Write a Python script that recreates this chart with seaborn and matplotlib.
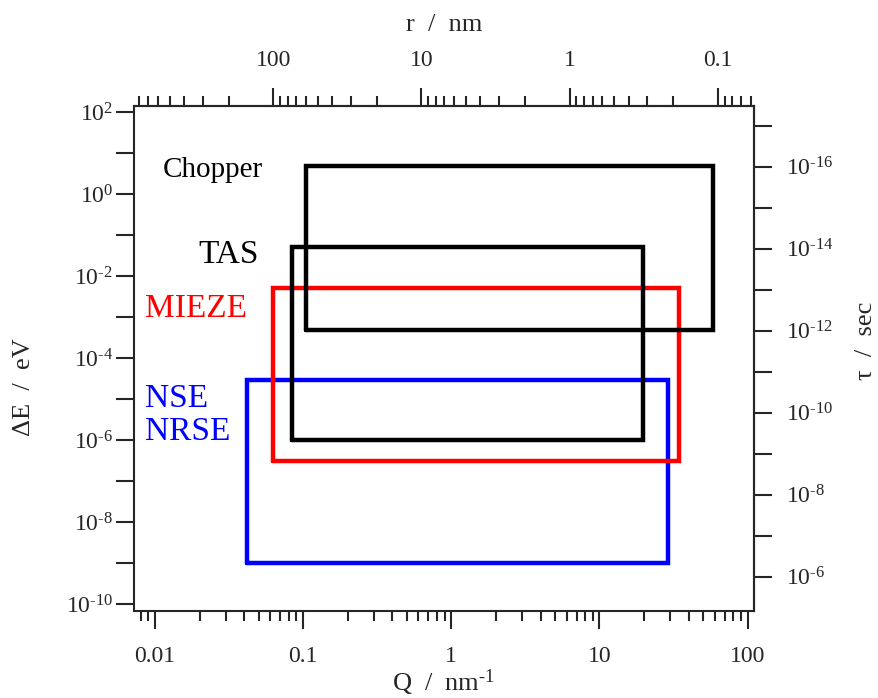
import numpy as np
import matplotlib
matplotlib.use("Agg")
import matplotlib.pyplot as plt
import matplotlib.ticker as mticker
import pandas as pd
import seaborn as sns

# instrument windows: momentum transfer Q (nm^-1) and energy transfer dE (eV)
instruments = ["Chopper", "TAS", "MIEZE", "NSE"]
q_min = [0.105, 0.084, 0.063, 0.042]
q_max = [58.0, 19.6, 34.4, 29.2]
e_min = [4.9e-4, 1.0e-6, 3.2e-7, 1.0e-9]
e_max = [4.9, 0.051, 5.1e-3, 2.96e-5]
colors = ["black", "black", "red", "blue"]

# tick decades
q_ticks = [0.01, 0.1, 1, 10, 100]
r_ticks = [0.1, 1, 10, 100]
e_exponents = list(range(-10, 3))
tau_exponents = list(range(-17, -5))

TAU_E = 4.7e-16  # tau * dE (eV s)

sns.set_style("ticks")
plt.rcParams["font.family"] = ["Liberation Serif", "DejaVu Serif"]
plt.rcParams["mathtext.fontset"] = "custom"
plt.rcParams["mathtext.rm"] = "Liberation Serif"
plt.rcParams["mathtext.it"] = "Liberation Serif:italic"
plt.rcParams["mathtext.bf"] = "Liberation Serif:bold"


def pow_label(v, pos):
    # label every second decade, with a plain hyphen like the original
    n = int(round(np.log10(v)))
    if n % 2:
        return ""
    if n < 0:
        return r"$10^{\text{-%d}}$" % (-n)
    return r"$10^{%d}$" % n


# rectangle outlines as closed polylines
rows = []
for name, q0, q1, e0, e1 in zip(instruments, q_min, q_max, e_min, e_max):
    for q, e in [(q0, e0), (q1, e0), (q1, e1), (q0, e1), (q0, e0)]:
        rows.append({"inst": name, "Q": q, "E": e})
df = pd.DataFrame(rows)

fig = plt.figure(figsize=(8.79, 6.98), dpi=100)
ax = fig.add_axes([134 / 879, 1 - 611 / 698, 620 / 879, 505.3 / 698])
ax.set_xscale("log")
ax.set_yscale("log")

sns.lineplot(data=df, x="Q", y="E", hue="inst", units="inst", estimator=None,
             sort=False, hue_order=["NSE", "MIEZE", "TAS", "Chopper"],
             palette=dict(zip(instruments, colors)), lw=3.2, legend=False,
             solid_joinstyle="miter", ax=ax)

ax.set_xlim(10 ** -2.142, 10 ** 2.043)
ax.set_ylim(10 ** -10.163, 10 ** 2.161)

# bottom axis
ax.xaxis.set_major_locator(mticker.FixedLocator(q_ticks))
ax.xaxis.set_major_formatter(mticker.FuncFormatter(lambda v, p: f"{v:g}"))
ax.xaxis.set_minor_locator(mticker.LogLocator(base=10, subs=np.arange(2, 10), numticks=20))
ax.xaxis.set_minor_formatter(mticker.NullFormatter())
ax.set_xlabel(r"Q  /  nm$^{\text{-1}}$", fontsize=19)
ax.xaxis.set_label_coords(0.5, -0.112)

# left axis
ax.yaxis.set_major_locator(mticker.FixedLocator([10.0 ** k for k in e_exponents]))
ax.yaxis.set_major_formatter(mticker.FuncFormatter(pow_label))
ax.yaxis.set_minor_locator(mticker.NullLocator())
ax.set_ylabel("ΔE  /  eV", fontsize=19)
ax.yaxis.set_label_coords(-0.16, 0.443)

ax.tick_params(axis="both", which="major", length=13, width=1.5, labelsize=17)
ax.tick_params(axis="both", which="minor", length=7, width=1.5)
ax.tick_params(axis="x", pad=12)
ax.tick_params(axis="y", pad=2)
for s in ax.spines.values():
    s.set_linewidth(1.5)


# top axis: r = 2 pi / Q
def q_to_r(q):
    return 2 * np.pi / np.asarray(q, dtype=float)


secx = ax.secondary_xaxis("top", functions=(q_to_r, q_to_r))
secx.xaxis.set_major_locator(mticker.FixedLocator(r_ticks))
secx.xaxis.set_major_formatter(mticker.FuncFormatter(lambda v, p: f"{v:g}"))
secx.xaxis.set_minor_locator(mticker.LogLocator(base=10, subs=np.arange(2, 10), numticks=20))
secx.xaxis.set_minor_formatter(mticker.NullFormatter())
secx.tick_params(which="major", length=13, width=1.5, labelsize=17, pad=12)
secx.tick_params(which="minor", length=7, width=1.5)
secx.set_xlabel("r  /  nm", fontsize=19)
secx.xaxis.set_label_coords(0.5, 1.148, transform=ax.transAxes)


# right axis: tau = const / dE
def e_to_tau(e):
    return TAU_E / np.asarray(e, dtype=float)


secy = ax.secondary_yaxis("right", functions=(e_to_tau, e_to_tau))
secy.yaxis.set_major_locator(mticker.FixedLocator([10.0 ** k for k in tau_exponents]))
secy.yaxis.set_major_formatter(mticker.FuncFormatter(pow_label))
secy.yaxis.set_minor_locator(mticker.NullLocator())
secy.tick_params(which="major", length=13, width=1.5, labelsize=17, pad=10)
secy.set_ylabel("τ  /  sec", fontsize=19, rotation=90)
secy.yaxis.set_label_coords(1.163, 0.534, transform=ax.transAxes)
for sec in (secx, secy):
    for s in sec.spines.values():
        s.set_linewidth(1.5)

# instrument labels
ax.text(0.0468, 0.8595, "Chopper", color="black", fontsize=21,
        ha="left", va="baseline", transform=ax.transAxes)
ax.text(0.1037, 0.688, "TAS", color="black", fontsize=24,
        ha="left", va="baseline", transform=ax.transAxes)
ax.text(0.0177, 0.5824, "MIEZE", color="red", fontsize=24,
        ha="left", va="baseline", transform=ax.transAxes)
ax.text(0.0177, 0.4043, "NSE", color="blue", fontsize=24,
        ha="left", va="baseline", transform=ax.transAxes)
ax.text(0.0177, 0.3384, "NRSE", color="blue", fontsize=24,
        ha="left", va="baseline", transform=ax.transAxes)

fig.savefig("out.png", dpi=100)
